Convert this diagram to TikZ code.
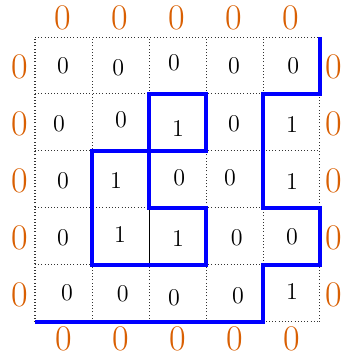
\documentclass[tikz,border=0pt]{standalone}
\definecolor{edgeorange}{RGB}{217,95,2}
\begin{document}
\begin{tikzpicture}[
        cellnum/.style={inner sep=0pt, font=\large},
        bordernum/.style={inner sep=0pt, text=edgeorange, font=\fontsize{18}{20}\selectfont},
        gridline/.style={line width=0.5pt, dash pattern=on 0.45pt off 1.15pt, black!80},
        wall/.style={draw=blue, line width=2.1pt, line join=miter},
    ]
    \useasboundingbox (-0.614,-0.579) rectangle (5.404,5.649);
    \draw[gridline] (0,0) grid (5,5);
    % cell values
    \foreach \px/\py/\v [count=\i] in {
        0.49/4.49/0, 1.46/4.46/0, 2.44/4.54/0, 3.49/4.50/0, 4.53/4.50/0,
        0.42/3.47/0, 1.51/3.54/0, 2.51/3.40/1, 3.49/3.47/0, 4.51/3.46/1,
        0.49/2.47/0, 1.42/2.49/1, 2.53/2.53/0, 3.42/2.53/0, 4.51/2.46/1,
        0.49/1.47/0, 1.49/1.53/1, 2.51/1.47/1, 3.54/1.47/0, 4.51/1.49/0,
        0.56/0.51/0, 1.54/0.49/0, 2.44/0.42/0, 3.56/0.46/0, 4.51/0.53/1}
        \node[cellnum] (c\i) at (\px,\py) {\v};
    % outer zeros
    \foreach \k in {0,...,4} {
        \node[bordernum] (top\k) at (\k+0.48,5.33) {0};
        \node[bordernum] (bot\k) at (\k+0.5,-0.29) {0};
        \node[bordernum] (lft\k) at (-0.26,\k+0.47) {0};
        \node[bordernum] (rgt\k) at (5.25,\k+0.47) {0};
    }
    \draw[line width=0.4pt] (2,2) -- (2,1);
    \draw[wall] (5,5) -- (5,4) -- (4,4) -- (4,2) -- (5,2) -- (5,1) -- (4,1) -- (4,0) -- (0,0);
    \draw[wall] (1,1) -- (1,3) -- (3,3) -- (3,4) -- (2,4) -- (2,2) -- (3,2) -- (3,1) -- cycle;
\end{tikzpicture}
\end{document}
